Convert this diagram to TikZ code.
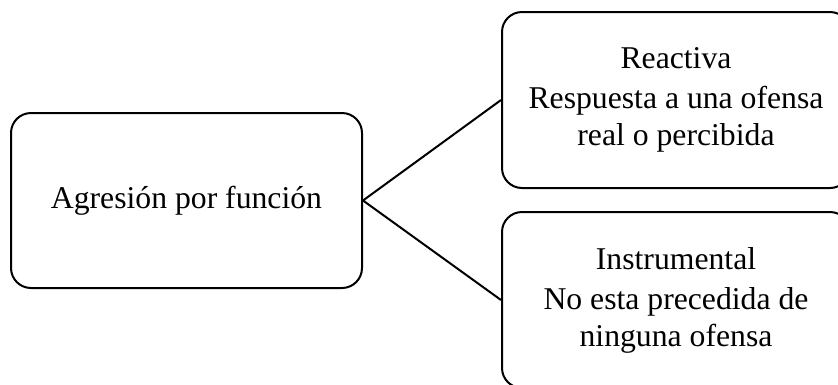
\documentclass[tikz,border=0pt]{standalone}
\usepackage{fontspec}
\setmainfont{Liberation Serif}
\begin{document}
\begin{tikzpicture}[x=1pt,y=-1pt,
  box/.style={draw=black, line width=2pt, rounded corners=20pt, fill=white,
    align=center, inner sep=0pt, font=\fontsize{31.7}{37}\selectfont},
  link/.style={draw=black, line width=2pt}]
\useasboundingbox (0,0) rectangle (838,384);
\clip (0,0) rectangle (838,384);
\node[box, minimum width=351pt, minimum height=175pt] (L) at (186.5,200.5) {Agresión por función};
\node[box, minimum width=348pt, minimum height=176pt] (T) at (676,100) {Reactiva\\[3pt]Respuesta a una ofensa\\real o percibida};
\node[box, minimum width=348pt, minimum height=176pt] (B) at (676,300) {Instrumental\\[3pt]No esta precedida de\\ninguna ofensa};
\draw[link] (T.west) -- (L.east) -- (B.west);
\end{tikzpicture}
\end{document}
